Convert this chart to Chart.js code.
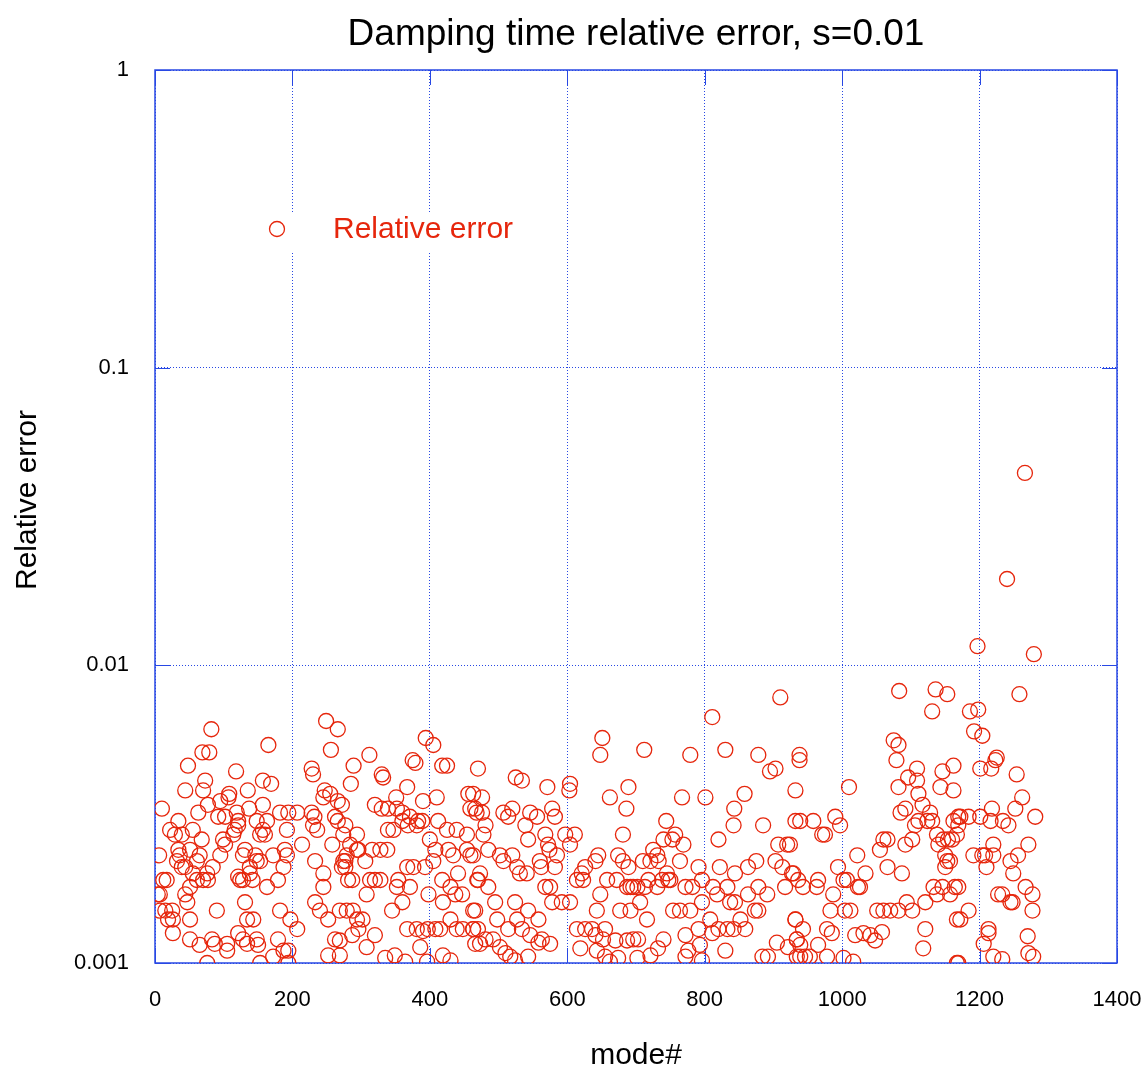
<!DOCTYPE html>
<html>
<head>
<meta charset="utf-8">
<title>Damping time relative error</title>
<script src="https://cdn.jsdelivr.net/npm/chart.js@4.4.1/dist/chart.umd.min.js"></script>
<style>
  html, body { margin: 0; padding: 0; background: #fff; }
</style>
</head>
<body>
<canvas id="chart" width="1148" height="1078"></canvas>
<script>
const chartTitle = 'Damping time relative error, s=0.01';
const seriesLabel = 'Relative error';
const xTitle = 'mode#';
const yTitle = 'Relative error';
const xTicks = [0, 200, 400, 600, 800, 1000, 1200, 1400];
const yTicks = [0.001, 0.01, 0.1, 1];

// [mode number, relative error]
const modesLow = [
  [82,.0061],[165,.0054],[69,.0051],[79,.0051],[48,.0046],[118,.0044],[73,.0041],[157,.0041],[169,.0040],
  [44,.0038],[70,.0038],[108,.0037],[135,.0038],[107,.0036],[77,.0034],[95,.0035],[10,.0033],[63,.0032],
  [137,.0033],[157,.0034],[92,.0031],[102,.0031],[119,.0032],[121,.0030],[148,.0030],[163,.0030],[182,.0032],
  [194,.0032],[207,.0032],[22,.0028],[34,.0030],[55,.0028],[39,.0027],[29,.0027],[116,.0028],[121,.0029],
  [157,.0028],[160,.0027],[153,.0027],[192,.0028],[68,.0026],[99,.0026],[102,.0025],[114,.0027],[214,.0025],
  [6,.0023],[34,.0024],[36,.0023],[51,.0024],[65,.0023],[95,.0023],[131,.0024],[128,.0023],[146,.0023],
  [148,.0022],[172,.0023],[189,.0024],[192,.0023],[32,.0022],[39,.0021],[44,.0021],[61,.0022],[55,.0020],
  [84,.0021],[76,.0020],[138,.0021],[153,.0022],[138,.0020],[128,.0019],[187,.0021],[61,.0019],[70,.0019],
  [77,.0019],[124,.0019],[121,.00195],[142,.0019],[179,.0019],[17,.0019],[12,.0019],[4,.0017],[7,.0017],
  [51,.0018],[44,.0017],[47,.0016],[163,.0018],[131,.0016],[90,.0015],[7,.0015],[15,.0015],[19,.0014],
  [25,.0015],[26,.0014],[51,.0014],[134,.0014],[143,.0014],[182,.0015],[197,.0014],[207,.0013],[26,.00126],
  [51,.0012],[65,.00115],[83,.0012],[87,.00116],[105,.00116],[105,.0011],[121,.00126],[128,.0012],[134,.00116],
  [148,.0012],[150,.00115],[179,.0012],[187,.0011],[194,.0011],[76,.001],[153,.001],[172,.00105],[194,.001]
];

const modesMid = [
  [249,.0065],[266,.0061],[394,.0057],[405,.0054],[256,.0052],[312,.0050],[289,.0046],[375,.0048],[379,.0047],
  [418,.0046],[425,.0046],[470,.0045],[330,.0043],[332,.0042],[228,.0045],[230,.0043],[285,.0040],[367,.0039],
  [456,.0037],[463,.0037],[247,.0038],[255,.0037],[266,.0035],[272,.0034],[245,.0036],[351,.0036],[390,.0035],
  [410,.0036],[320,.0034],[330,.0033],[339,.0033],[352,.0033],[360,.0032],[459,.0033],[468,.0032],[228,.0032],
  [232,.0031],[262,.0031],[266,.0030],[371,.0031],[383,.0030],[412,.0030],[230,.0029],[236,.0028],[277,.0029],
  [274,.0027],[339,.0028],[347,.0028],[360,.0030],[368,.0029],[381,.0029],[389,.0030],[425,.0028],[439,.0028],
  [454,.0027],[294,.0027],[258,.0025],[400,.0026],[284,.0025],[294,.0024],[296,.0024],[316,.0024],[328,.0024],
  [338,.0024],[279,.0023],[277,.0022],[427,.0024],[434,.0023],[454,.0024],[459,.0023],[233,.0022],[306,.0022],
  [405,.0022],[408,.0024],[367,.0021],[376,.0021],[393,.0021],[274,.0022],[272,.0021],[277,.0021],[245,.0020],
  [418,.0019],[441,.0020],[313,.0019],[328,.0019],[320,.0019],[281,.0019],[287,.0019],[354,.0019],[371,.0018],
  [352,.0018],[469,.0019],[245,.0018],[430,.0018],[437,.0017],[447,.0017],[308,.0017],[398,.0017],[419,.0016],
  [233,.0016],[360,.0016],[345,.0015],[463,.0015],[240,.0015],[252,.0014],[269,.0015],[279,.0015],[288,.0015],
  [294,.0014],[296,.0013],[302,.0014],[415,.0013],[430,.0014],[439,.0013],[448,.0013],[463,.0013],[470,.0013],
  [367,.0013],[381,.0013],[390,.00128],[397,.0013],[408,.0013],[262,.0012],[269,.00119],[287,.00124],[308,.00113],
  [320,.00124],[386,.00113],[466,.00116],[252,.00106],[269,.00106],[335,.00104],[349,.00106],[364,.00101],
  [396,.00101],[419,.00106],[430,.00102]
];

const modesCentre = [
  [651,.0057],[648,.0050],[525,.0042],[534,.0041],[571,.0039],[604,.0040],[603,.0038],[689,.0039],[662,.0036],
  [686,.0033],[476,.0036],[466,.0033],[476,.0032],[507,.0032],[520,.0033],[514,.0031],[546,.0032],[556,.0031],
  [578,.0033],[582,.0031],[539,.0029],[543,.0026],[568,.0027],[597,.0027],[611,.0027],[604,.0025],[681,.0027],
  [481,.0029],[478,.0027],[485,.0024],[572,.0025],[574,.0024],[585,.0023],[502,.0023],[520,.0023],[463,.0023],
  [645,.0023],[641,.0022],[674,.0023],[681,.0022],[689,.0021],[507,.0022],[527,.0021],[531,.0020],[541,.0020],
  [560,.0022],[562,.0021],[582,.0021],[626,.0021],[621,.0020],[623,.0019],[614,.0019],[473,.0020],[470,.0019],
  [485,.0018],[658,.0019],[672,.0019],[687,.0018],[692,.0018],[696,.0018],[568,.0018],[575,.0018],[578,.0016],
  [592,.0016],[604,.0016],[495,.0016],[648,.0017],[677,.0015],[692,.0015],[643,.0015],[524,.0016],[543,.0015],
  [558,.0014],[527,.0014],[498,.0014],[466,.0015],[463,.0013],[514,.0013],[534,.0013],[546,.00124],[558,.00117],
  [575,.00116],[563,.0012],[614,.0013],[626,.0013],[636,.0013],[641,.00124],[652,.0012],[655,.0013],[670,.00119],
  [687,.00119],[696,.0012],[481,.0012],[492,.0012],[473,.00116],[502,.00113],[510,.00108],[517,.00105],
  [524,.00102],[543,.00105],[619,.00112],[643,.0011],[655,.00105],[662,.00101],[674,.00104],[702,.00104]
];

const modesUpper = [
  [910,.0078],[811,.0067],[712,.0052],[779,.0050],[830,.0052],[878,.0050],[938,.0050],[938,.0048],[895,.0044],
  [903,.0045],[767,.0036],[801,.0036],[858,.0037],[843,.0033],[842,.0029],[820,.0026],[885,.0029],[932,.0038],
  [932,.0030],[744,.0030],[740,.0026],[757,.0027],[753,.0026],[769,.0025],[907,.0025],[920,.0025],[725,.0024],
  [731,.0023],[710,.0022],[721,.0022],[764,.0022],[733,.0022],[822,.0021],[844,.0020],[863,.0021],[875,.0022],
  [903,.0022],[913,.0021],[929,.0020],[791,.0021],[796,.0019],[745,.0020],[747,.0019],[750,.0019],[738,.0019],
  [702,.0018],[713,.0018],[718,.0019],[731,.0018],[772,.0018],[782,.0018],[812,.0018],[818,.0017],[833,.0018],
  [863,.0017],[878,.0018],[891,.0017],[917,.0018],[936,.0019],[706,.0016],[716,.0014],[754,.0015],[764,.0015],
  [779,.0015],[796,.0016],[808,.0014],[837,.0016],[844,.0016],[852,.0014],[859,.0013],[873,.0015],[878,.0015],
  [932,.0014],[703,.0012],[732,.00112],[740,.0012],[772,.00124],[791,.0013],[811,.00126],[820,.0013],[833,.0013],
  [842,.0013],[905,.00117],[921,.00113],[934,.0012],[721,.00106],[772,.00105],[776,.0011],[793,.00115],[796,.00102],
  [830,.0011],[884,.00105],[892,.00105],[934,.00105]
];

const modesHigh = [
  [1083,.0082],[1136,.0083],[1153,.0080],[1131,.0070],[1075,.0056],[1082,.0054],[1079,.0048],[1010,.0039],
  [1082,.0039],[1096,.0042],[1109,.0045],[1109,.0041],[1146,.0044],[1162,.0046],[1143,.0039],[1162,.0038],
  [1111,.0037],[1117,.0034],[1128,.0032],[1085,.0032],[1092,.0033],[939,.0030],[958,.0030],[971,.0027],
  [975,.0027],[990,.0031],[997,.0029],[1111,.0030],[1124,.0030],[1131,.0030],[1106,.0029],[1102,.0026],
  [1092,.0025],[1138,.0027],[1140,.0025],[1147,.0026],[1154,.0026],[1162,.0030],[1169,.0031],[1060,.0026],
  [1066,.0026],[1055,.0024],[924,.0025],[1150,.0023],[1153,.0022],[1150,.0021],[1022,.0023],[1034,.0020],
  [1066,.0021],[1087,.0020],[994,.0021],[1002,.0019],[1007,.0019],[1023,.0018],[1026,.0018],[927,.0020],
  [943,.0018],[965,.0019],[963,.0018],[987,.0017],[1133,.0018],[1138,.0017],[1146,.0018],[1164,.0018],
  [1121,.0016],[1094,.0016],[1102,.0015],[1051,.0015],[1060,.0015],[1070,.0015],[1082,.0015],[983,.0015],
  [1004,.0015],[1012,.0015],[932,.0014],[943,.0013],[1167,.0014],[978,.0013],[985,.00126],[1019,.00124],
  [1031,.00126],[1041,.00124],[1048,.00119],[1058,.00127],[1121,.0013],[934,.0012],[939,.00115],[965,.00115],
  [1118,.00112],[939,.00105],[946,.00105],[953,.00105],[978,.00105],[1002,.00104],[1016,.00101],[1167,.001]
];

const modesTop = [
  [1258,.0080],[1186,.0070],[1198,.0071],[1192,.0060],[1204,.0058],[1225,.0049],[1223,.0048],[1201,.0045],
  [1217,.0045],[1254,.0043],[1262,.0036],[1252,.0033],[1218,.0033],[1281,.0031],[1172,.0031],[1184,.0031],
  [1201,.0031],[1216,.0030],[1234,.0030],[1242,.0029],[1169,.0029],[1167,.0027],[1160,.0026],[1220,.0025],
  [1220,.0023],[1271,.0025],[1191,.0023],[1204,.0023],[1208,.0023],[1245,.0022],[1256,.0023],[1249,.0020],
  [1210,.0021],[1157,.0022],[1169,.0018],[1157,.0017],[1227,.0017],[1233,.0017],[1248,.0016],[1245,.0016],
  [1267,.0018],[1277,.0017],[1277,.0015],[1184,.0015],[1172,.0014],[1213,.0013],[1213,.00126],[1206,.00116],
  [1270,.00123],[1271,.00108],[1278,.00105],[1220,.00105],[1233,.00103],[1169,.001],
  [1266,.0443],[1240,.0195],[1197,.0116],[1279,.0109]
];

const RED = 'rgb(230,38,12)';
const BLUE = 'rgb(40,72,228)';
const FONT = '"Liberation Sans", Arial, sans-serif';

const allPoints = [...modesLow, ...modesMid, ...modesCentre, ...modesUpper, ...modesHigh, ...modesTop]
  .map(([m, e]) => ({ x: m, y: e }));

// Title and axis titles, placed relative to the plot frame
const textPlugin = {
  id: 'plotText',
  afterDraw(chart) {
    const { ctx, chartArea: a } = chart;
    ctx.save();
    ctx.fillStyle = '#000';
    ctx.textAlign = 'center';
    ctx.textBaseline = 'alphabetic';
    ctx.font = '37px ' + FONT;
    ctx.fillText(chartTitle, (a.left + a.right) / 2, 45);
    ctx.font = '30px ' + FONT;
    ctx.textBaseline = 'middle';
    ctx.fillText(xTitle, (a.left + a.right) / 2, a.bottom + 93);
    ctx.translate(28, a.top + 430);
    ctx.rotate(-Math.PI / 2);
    ctx.fillText(yTitle, 0, 0);
    ctx.restore();
  }
};

// Solid box and inward tick marks
const framePlugin = {
  id: 'frame',
  beforeDatasetsDraw(chart) {
    const { ctx, chartArea: a, scales: { x, y } } = chart;
    ctx.save();
    ctx.strokeStyle = BLUE;
    ctx.lineWidth = 1.5;
    ctx.strokeRect(a.left, a.top, a.right - a.left, a.bottom - a.top);
    ctx.lineWidth = 1;
    ctx.beginPath();
    xTicks.forEach(v => {
      const px = Math.round(x.getPixelForValue(v)) + 0.5;
      ctx.moveTo(px, a.bottom); ctx.lineTo(px, a.bottom - 15);
      ctx.moveTo(px, a.top); ctx.lineTo(px, a.top + 15);
    });
    yTicks.forEach(v => {
      const py = Math.round(y.getPixelForValue(v)) + 0.5;
      ctx.moveTo(a.left, py); ctx.lineTo(a.left + 15, py);
      ctx.moveTo(a.right, py); ctx.lineTo(a.right - 15, py);
    });
    ctx.stroke();
    ctx.restore();
  }
};

// Key drawn inside the plot, on a white patch
const keyPlugin = {
  id: 'key',
  beforeDatasetsDraw(chart) {
    const { ctx, chartArea: a } = chart;
    const ds = chart.data.datasets[0];
    const cy = a.top + 159;
    ctx.save();
    ctx.fillStyle = '#fff';
    ctx.fillRect(a.left + 100, a.top + 142, 290, 40);
    ctx.strokeStyle = ds.borderColor;
    ctx.lineWidth = ds.borderWidth;
    ctx.beginPath();
    ctx.arc(a.left + 122, cy, ds.pointRadius, 0, Math.PI * 2);
    ctx.stroke();
    ctx.font = '30px ' + FONT;
    ctx.fillStyle = ds.borderColor;
    ctx.textBaseline = 'middle';
    ctx.fillText(ds.label, a.left + 178, cy + 1);
    ctx.restore();
  }
};

new Chart(document.getElementById('chart'), {
  type: 'scatter',
  data: {
    datasets: [{
      label: seriesLabel,
      data: allPoints,
      pointStyle: 'circle',
      pointRadius: 7.5,
      pointHoverRadius: 7.5,
      borderWidth: 1.3,
      borderColor: RED,
      backgroundColor: 'rgba(0,0,0,0)'
    }]
  },
  options: {
    responsive: false,
    animation: false,
    devicePixelRatio: 1,
    layout: { padding: { top: 70, right: 31, left: 0, bottom: 0 } },
    plugins: {
      legend: { display: false },
      tooltip: { enabled: false },
      title: { display: false }
    },
    scales: {
      x: {
        type: 'linear',
        min: 0,
        max: 1400,
        afterBuildTicks: s => { s.ticks = xTicks.map(v => ({ value: v })); },
        afterFit: s => { s.height = 115; s.paddingLeft = 0; s.paddingRight = 0; },
        ticks: {
          color: '#000',
          padding: 24,
          maxRotation: 0,
          font: { family: FONT, size: 22 },
          callback: v => String(v)
        },
        grid: { color: BLUE, lineWidth: 1, drawTicks: false },
        border: { display: false, dash: [1, 2] }
      },
      y: {
        type: 'logarithmic',
        min: 0.001,
        max: 1,
        afterBuildTicks: s => { s.ticks = yTicks.map(v => ({ value: v })); },
        afterFit: s => { s.width = 155; s.paddingTop = 0; s.paddingBottom = 0; },
        ticks: {
          color: '#000',
          padding: 26,
          font: { family: FONT, size: 22 },
          callback: v => String(v)
        },
        grid: { color: BLUE, lineWidth: 1, drawTicks: false },
        border: { display: false, dash: [1, 2] }
      }
    }
  },
  plugins: [framePlugin, keyPlugin, textPlugin]
});
</script>
</body>
</html>
